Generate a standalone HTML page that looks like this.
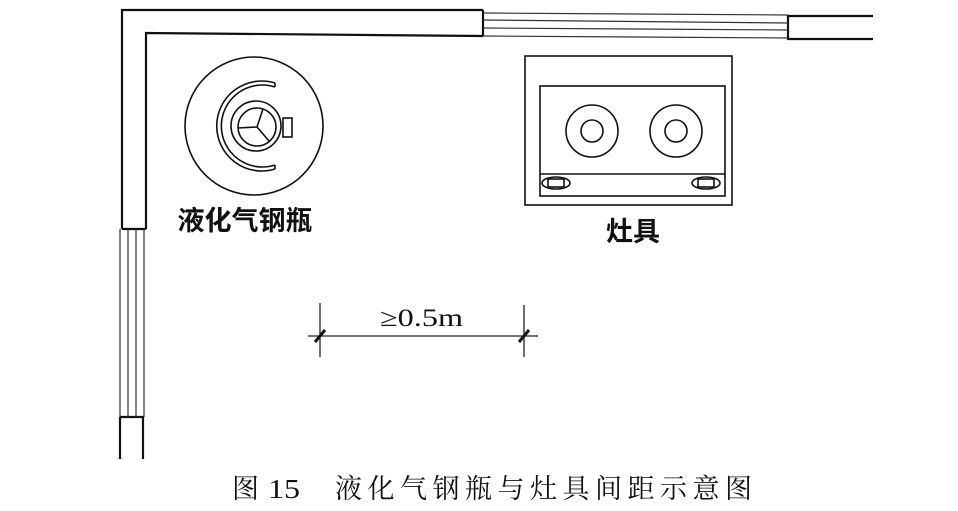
<!DOCTYPE html><html><head><style>body{margin:0;background:#fff}svg{display:block}</style></head><body>
<svg width="958" height="511" viewBox="0 0 958 511" xmlns="http://www.w3.org/2000/svg">
<g fill="none" stroke="#111" stroke-width="2.2">
<polyline points="483,10 122,10 122,229"/>
<polyline points="483,36 146,33 146,229"/>
<line x1="483" y1="10" x2="483" y2="36"/>
<line x1="122" y1="229" x2="146" y2="229"/>
<polyline points="873,16 788,16 788,39 873,39"/>
<line x1="120" y1="417" x2="144" y2="417"/>
<line x1="120" y1="417" x2="120" y2="459"/><line x1="143" y1="417" x2="143" y2="459"/>
</g>
<g stroke="#333" stroke-width="1.2">
<line x1="483" y1="13" x2="788" y2="15"/><line x1="483" y1="20" x2="788" y2="23"/>
<line x1="483" y1="28" x2="788" y2="30"/><line x1="483" y1="36" x2="788" y2="38"/>
<line x1="120" y1="229" x2="120" y2="417"/><line x1="128" y1="229" x2="128" y2="417"/>
<line x1="136" y1="229" x2="136" y2="417"/><line x1="144" y1="229" x2="144" y2="417"/>
</g>
<g fill="none" stroke="#111" stroke-width="1.6">
<circle cx="254" cy="126" r="69"/>
<circle cx="256" cy="126" r="25"/>
<circle cx="257" cy="127" r="19"/>
<path d="M257,127 L238,128 M257,127 L263,109 M257,127 L269,141"/>
<rect x="283" y="118" width="9" height="19"/>
<path d="M275,83 A45,45 0 1 0 275,169"/>
<path d="M275,87 A41,41 0 1 0 275,165"/>
<line x1="275" y1="83" x2="275" y2="87"/><line x1="275" y1="165" x2="275" y2="169"/>
<rect x="525" y="56" width="207" height="149"/>
<rect x="540" y="86" width="185" height="110"/>
<line x1="540" y1="174" x2="725" y2="174"/>
<circle cx="592" cy="131" r="26"/><circle cx="592" cy="131" r="11"/>
<circle cx="676" cy="131" r="26"/><circle cx="676" cy="131" r="11"/>
<ellipse cx="556" cy="183" rx="14" ry="6"/><rect x="548" y="179" width="16" height="8"/>
<ellipse cx="706" cy="183" rx="14" ry="6"/><rect x="698" y="179" width="16" height="8"/>
</g>
<g stroke="#222" stroke-width="1.3">
<line x1="308" y1="336" x2="538" y2="336"/>
<line x1="320" y1="303" x2="320" y2="357"/><line x1="524" y1="305" x2="524" y2="357"/>
</g>
<g stroke="#111" stroke-width="3"><line x1="315" y1="342" x2="325" y2="330"/><line x1="519" y1="342" x2="529" y2="330"/></g>
<g font-family="'Liberation Serif','Noto Serif CJK SC',serif" fill="#111">
<text x="245" y="230" font-size="27" font-weight="bold" text-anchor="middle" font-family="'Liberation Sans','Noto Sans CJK SC',sans-serif">液化气钢瓶</text>
<text x="633" y="241" font-size="27" font-weight="bold" text-anchor="middle" font-family="'Liberation Sans','Noto Sans CJK SC',sans-serif">灶具</text>
<text x="380" y="326" font-size="25" textLength="83" lengthAdjust="spacingAndGlyphs">≥0.5m</text>
<text x="232" y="498" font-size="27">图</text>
<text x="268" y="498" font-size="27" textLength="32" lengthAdjust="spacingAndGlyphs">15</text>
<text x="335" y="498" font-size="27" textLength="417" lengthAdjust="spacing">液化气钢瓶与灶具间距示意图</text>
</g>
</svg></body></html>
